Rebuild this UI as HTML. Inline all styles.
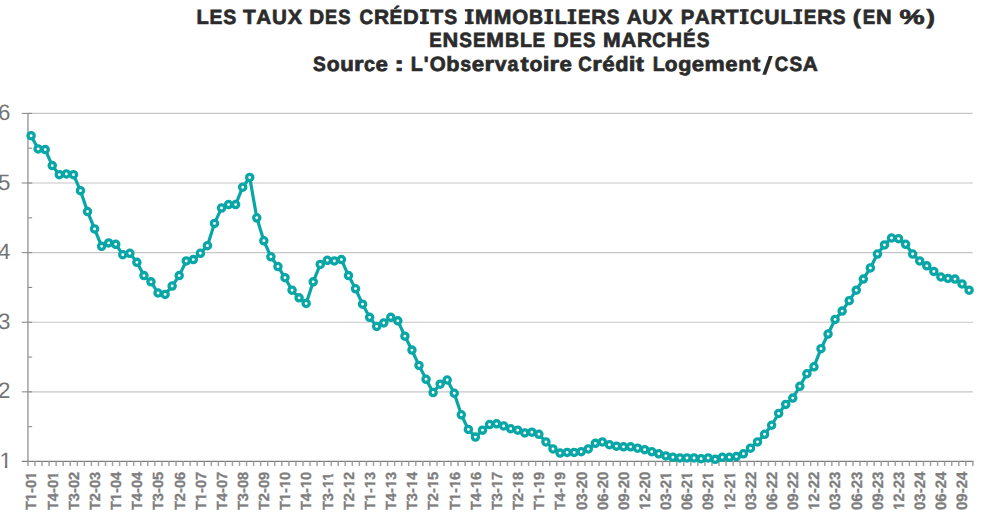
<!DOCTYPE html>
<html><head><meta charset="utf-8"><title>Taux</title>
<style>html,body{margin:0;padding:0;background:#fff;}svg{display:block;}text{font-family:"Liberation Sans",sans-serif;text-rendering:geometricPrecision;}</style></head>
<body>
<svg width="981" height="515" viewBox="0 0 981 515">
<rect width="981" height="515" fill="#ffffff"/>
<g font-weight="bold" font-size="20.5" fill="#2b2b2b" stroke="#2b2b2b" stroke-width="0.7">
<text transform="translate(196.60 23.65) scale(0.9827 1)">L</text>
<text transform="translate(209.44 23.65) scale(0.9383 1)">E</text>
<text transform="translate(223.32 23.65) scale(0.9514 1)">S</text>
<text transform="translate(243.12 23.65) scale(1.0164 1)">T</text>
<text transform="translate(256.31 23.65) scale(1.0121 1)">A</text>
<text transform="translate(271.92 23.65) scale(1.0059 1)">U</text>
<text transform="translate(287.69 23.65) scale(1.0411 1)">X</text>
<text transform="translate(309.27 23.65) scale(1.0070 1)">D</text>
<text transform="translate(325.09 23.65) scale(0.8832 1)">E</text>
<text transform="translate(338.16 23.65) scale(0.8956 1)">S</text>
<text transform="translate(359.45 23.65) scale(0.9223 1)">C</text>
<text transform="translate(373.91 23.65) scale(1.0211 1)">R</text>
<text transform="translate(389.56 23.65) scale(0.9291 1)">É</text>
<text transform="translate(403.01 23.65) scale(1.0595 1)">D</text>
<path stroke="none" d="M420.04 9.20H428.91V11.60H420.04ZM420.04 21.60H428.91V24.00H420.04Z"/><text transform="translate(421.36 23.65) scale(1.0950 1)">I</text>
<text transform="translate(430.23 23.65) scale(1.0309 1)">T</text>
<text transform="translate(444.24 23.65) scale(0.9422 1)">S</text>
<path stroke="none" d="M464.90 9.20H473.65V11.60H464.90ZM464.90 21.60H473.65V24.00H464.90Z"/><text transform="translate(466.15 23.65) scale(1.0950 1)">I</text>
<text transform="translate(475.10 23.65) scale(1.0331 1)">M</text>
<text transform="translate(493.69 23.65) scale(1.0331 1)">M</text>
<text transform="translate(512.20 23.65) scale(0.9973 1)">O</text>
<text transform="translate(529.04 23.65) scale(0.9492 1)">B</text>
<path stroke="none" d="M544.40 9.20H553.15V11.60H544.40ZM544.40 21.60H553.15V24.00H544.40Z"/><text transform="translate(545.66 23.65) scale(1.0950 1)">I</text>
<text transform="translate(554.68 23.65) scale(0.9595 1)">L</text>
<path stroke="none" d="M567.60 9.20H576.35V11.60H567.60ZM567.60 21.60H576.35V24.00H567.60Z"/><text transform="translate(568.86 23.65) scale(1.0950 1)">I</text>
<text transform="translate(577.92 23.65) scale(0.9162 1)">E</text>
<text transform="translate(591.22 23.65) scale(1.0068 1)">R</text>
<text transform="translate(606.82 23.65) scale(0.9290 1)">S</text>
<text transform="translate(626.64 23.65) scale(1.0159 1)">A</text>
<text transform="translate(642.31 23.65) scale(1.0096 1)">U</text>
<text transform="translate(658.13 23.65) scale(1.0450 1)">X</text>
<text transform="translate(680.79 23.65) scale(0.9934 1)">P</text>
<text transform="translate(694.84 23.65) scale(1.0173 1)">A</text>
<text transform="translate(710.51 23.65) scale(1.0119 1)">R</text>
<text transform="translate(725.74 23.65) scale(1.0217 1)">T</text>
<path stroke="none" d="M739.85 9.20H748.64V11.60H739.85ZM739.85 21.60H748.64V24.00H739.85Z"/><text transform="translate(741.12 23.65) scale(1.0950 1)">I</text>
<text transform="translate(750.06 23.65) scale(0.9140 1)">C</text>
<text transform="translate(764.42 23.65) scale(1.0111 1)">U</text>
<text transform="translate(780.45 23.65) scale(0.9644 1)">L</text>
<path stroke="none" d="M793.44 9.20H802.23V11.60H793.44ZM793.44 21.60H802.23V24.00H793.44Z"/><text transform="translate(794.72 23.65) scale(1.0950 1)">I</text>
<text transform="translate(803.81 23.65) scale(0.9208 1)">E</text>
<text transform="translate(817.18 23.65) scale(1.0119 1)">R</text>
<text transform="translate(832.85 23.65) scale(0.9338 1)">S</text>
<text transform="translate(852.71 23.65) scale(1.1802 1)">(</text>
<text transform="translate(862.84 23.65) scale(0.9122 1)">E</text>
<text transform="translate(876.03 23.65) scale(1.0581 1)">N</text>
<text transform="translate(899.48 23.65) scale(1.3771 1)">%</text>
<text transform="translate(926.52 23.65) scale(1.2317 1)">)</text>
<text transform="translate(429.17 47.40) scale(0.9151 1)">E</text>
<text transform="translate(442.40 47.40) scale(1.0615 1)">N</text>
<text transform="translate(459.30 47.40) scale(0.9280 1)">S</text>
<text transform="translate(473.04 47.40) scale(0.9151 1)">E</text>
<text transform="translate(486.30 47.40) scale(1.0320 1)">M</text>
<text transform="translate(504.96 47.40) scale(0.9481 1)">B</text>
<text transform="translate(519.88 47.40) scale(0.9585 1)">L</text>
<text transform="translate(532.40 47.40) scale(0.9151 1)">E</text>
<text transform="translate(553.56 47.40) scale(1.0223 1)">D</text>
<text transform="translate(569.61 47.40) scale(0.8965 1)">E</text>
<text transform="translate(582.88 47.40) scale(0.9091 1)">S</text>
<text transform="translate(603.04 47.40) scale(1.0355 1)">M</text>
<text transform="translate(621.33 47.40) scale(1.0145 1)">A</text>
<text transform="translate(636.96 47.40) scale(1.0091 1)">R</text>
<text transform="translate(652.26 47.40) scale(0.9115 1)">C</text>
<text transform="translate(666.51 47.40) scale(1.0497 1)">H</text>
<text transform="translate(683.10 47.40) scale(0.9182 1)">É</text>
<text transform="translate(696.69 47.40) scale(0.9311 1)">S</text>
<text transform="translate(313.08 71.15) scale(0.9341 1)">S</text>
<text transform="translate(326.64 71.15) scale(1.0300 1)">o</text>
<text transform="translate(340.15 71.15) scale(1.0827 1)">u</text>
<text transform="translate(353.98 71.15) scale(1.2001 1)">r</text>
<text transform="translate(364.06 71.15) scale(0.9638 1)">c</text>
<text transform="translate(375.59 71.15) scale(1.0864 1)">e</text>
<text transform="translate(394.35 71.15) scale(1.4500 1)">:</text>
<text transform="translate(410.82 71.15) scale(0.9620 1)">L</text>
<text transform="translate(423.63 71.15) scale(0.9880 1)">&#39;</text>
<text transform="translate(429.71 71.15) scale(0.9998 1)">O</text>
<text transform="translate(446.25 71.15) scale(1.0587 1)">b</text>
<text transform="translate(460.20 71.15) scale(0.9569 1)">s</text>
<text transform="translate(471.73 71.15) scale(1.0832 1)">e</text>
<text transform="translate(484.56 71.15) scale(1.1965 1)">r</text>
<text transform="translate(494.73 71.15) scale(1.0381 1)">v</text>
<text transform="translate(507.58 71.15) scale(0.9601 1)">a</text>
<text transform="translate(520.48 71.15) scale(1.1920 1)">t</text>
<text transform="translate(529.45 71.15) scale(1.0269 1)">o</text>
<text transform="translate(542.63 71.15) scale(1.1865 1)">i</text>
<text transform="translate(549.44 71.15) scale(1.1965 1)">r</text>
<text transform="translate(559.43 71.15) scale(1.0832 1)">e</text>
<text transform="translate(578.25 71.15) scale(0.9129 1)">C</text>
<text transform="translate(592.15 71.15) scale(1.1981 1)">r</text>
<text transform="translate(602.15 71.15) scale(1.0846 1)">é</text>
<text transform="translate(615.19 71.15) scale(1.0602 1)">d</text>
<text transform="translate(628.68 71.15) scale(1.1881 1)">i</text>
<text transform="translate(635.73 71.15) scale(1.1936 1)">t</text>
<text transform="translate(652.63 71.15) scale(0.9538 1)">L</text>
<text transform="translate(664.82 71.15) scale(1.0182 1)">o</text>
<text transform="translate(678.15 71.15) scale(1.0516 1)">g</text>
<text transform="translate(691.81 71.15) scale(1.0740 1)">e</text>
<text transform="translate(704.61 71.15) scale(1.1094 1)">m</text>
<text transform="translate(725.37 71.15) scale(1.0740 1)">e</text>
<text transform="translate(738.22 71.15) scale(1.0703 1)">n</text>
<text transform="translate(752.21 71.15) scale(1.1818 1)">t</text>
<text transform="translate(774.85 71.15) scale(0.9124 1)">C</text>
<text transform="translate(789.42 71.15) scale(0.9320 1)">S</text>
<text transform="translate(802.76 71.15) scale(1.0155 1)">A</text>
<polygon points="768.9,56.1 772.7,56.1 766.1,74.7 762.3,74.7" stroke="none"/>
</g>
<g stroke="#c6c6c6" stroke-width="1.1">
<line x1="27.95" y1="113.40" x2="972.86" y2="113.40"/>
<line x1="27.95" y1="183.01" x2="972.86" y2="183.01"/>
<line x1="27.95" y1="252.62" x2="972.86" y2="252.62"/>
<line x1="27.95" y1="322.24" x2="972.86" y2="322.24"/>
<line x1="27.95" y1="391.85" x2="972.86" y2="391.85"/>
</g>
<line x1="27.95" y1="112.90" x2="27.95" y2="461.46" stroke="#a6a6a6" stroke-width="1.6"/>
<g stroke="#8c8c8c" stroke-width="1.1">
<line x1="21.7" y1="113.40" x2="32.2" y2="113.40"/>
<line x1="21.7" y1="183.01" x2="32.2" y2="183.01"/>
<line x1="21.7" y1="252.62" x2="32.2" y2="252.62"/>
<line x1="21.7" y1="322.24" x2="32.2" y2="322.24"/>
<line x1="21.7" y1="391.85" x2="32.2" y2="391.85"/>
<line x1="27.95" y1="148.21" x2="32.2" y2="148.21"/>
<line x1="27.95" y1="217.82" x2="32.2" y2="217.82"/>
<line x1="27.95" y1="287.43" x2="32.2" y2="287.43"/>
<line x1="27.95" y1="357.04" x2="32.2" y2="357.04"/>
<line x1="27.95" y1="426.65" x2="32.2" y2="426.65"/>
</g>
<line x1="21.7" y1="461.46" x2="973.46" y2="461.46" stroke="#7f7f7f" stroke-width="1.2"/>
<path d="M27.95 461.46V466.06M35.00 461.46V466.06M42.05 461.46V466.06M49.10 461.46V466.06M56.16 461.46V466.06M63.21 461.46V466.06M70.26 461.46V466.06M77.31 461.46V466.06M84.36 461.46V466.06M91.41 461.46V466.06M98.47 461.46V466.06M105.52 461.46V466.06M112.57 461.46V466.06M119.62 461.46V466.06M126.67 461.46V466.06M133.72 461.46V466.06M140.78 461.46V466.06M147.83 461.46V466.06M154.88 461.46V466.06M161.93 461.46V466.06M168.98 461.46V466.06M176.03 461.46V466.06M183.08 461.46V466.06M190.14 461.46V466.06M197.19 461.46V466.06M204.24 461.46V466.06M211.29 461.46V466.06M218.34 461.46V466.06M225.39 461.46V466.06M232.45 461.46V466.06M239.50 461.46V466.06M246.55 461.46V466.06M253.60 461.46V466.06M260.65 461.46V466.06M267.70 461.46V466.06M274.75 461.46V466.06M281.81 461.46V466.06M288.86 461.46V466.06M295.91 461.46V466.06M302.96 461.46V466.06M310.01 461.46V466.06M317.06 461.46V466.06M324.12 461.46V466.06M331.17 461.46V466.06M338.22 461.46V466.06M345.27 461.46V466.06M352.32 461.46V466.06M359.37 461.46V466.06M366.43 461.46V466.06M373.48 461.46V466.06M380.53 461.46V466.06M387.58 461.46V466.06M394.63 461.46V466.06M401.68 461.46V466.06M408.73 461.46V466.06M415.79 461.46V466.06M422.84 461.46V466.06M429.89 461.46V466.06M436.94 461.46V466.06M443.99 461.46V466.06M451.04 461.46V466.06M458.10 461.46V466.06M465.15 461.46V466.06M472.20 461.46V466.06M479.25 461.46V466.06M486.30 461.46V466.06M493.35 461.46V466.06M500.40 461.46V466.06M507.46 461.46V466.06M514.51 461.46V466.06M521.56 461.46V466.06M528.61 461.46V466.06M535.66 461.46V466.06M542.71 461.46V466.06M549.77 461.46V466.06M556.82 461.46V466.06M563.87 461.46V466.06M570.92 461.46V466.06M577.97 461.46V466.06M585.02 461.46V466.06M592.08 461.46V466.06M599.13 461.46V466.06M606.18 461.46V466.06M613.23 461.46V466.06M620.28 461.46V466.06M627.33 461.46V466.06M634.38 461.46V466.06M641.44 461.46V466.06M648.49 461.46V466.06M655.54 461.46V466.06M662.59 461.46V466.06M669.64 461.46V466.06M676.69 461.46V466.06M683.75 461.46V466.06M690.80 461.46V466.06M697.85 461.46V466.06M704.90 461.46V466.06M711.95 461.46V466.06M719.00 461.46V466.06M726.06 461.46V466.06M733.11 461.46V466.06M740.16 461.46V466.06M747.21 461.46V466.06M754.26 461.46V466.06M761.31 461.46V466.06M768.36 461.46V466.06M775.42 461.46V466.06M782.47 461.46V466.06M789.52 461.46V466.06M796.57 461.46V466.06M803.62 461.46V466.06M810.67 461.46V466.06M817.73 461.46V466.06M824.78 461.46V466.06M831.83 461.46V466.06M838.88 461.46V466.06M845.93 461.46V466.06M852.98 461.46V466.06M860.03 461.46V466.06M867.09 461.46V466.06M874.14 461.46V466.06M881.19 461.46V466.06M888.24 461.46V466.06M895.29 461.46V466.06M902.34 461.46V466.06M909.40 461.46V466.06M916.45 461.46V466.06M923.50 461.46V466.06M930.55 461.46V466.06M937.60 461.46V466.06M944.65 461.46V466.06M951.71 461.46V466.06M958.76 461.46V466.06M965.81 461.46V466.06M972.86 461.46V466.06" stroke="#a3a3a3" stroke-width="1.5" fill="none"/>
<g font-size="22.3" fill="#747474" text-anchor="end">
<text x="10.3" y="119.90">6</text>
<text x="10.3" y="189.51">5</text>
<text x="10.3" y="259.12">4</text>
<text x="10.3" y="328.74">3</text>
<text x="10.3" y="398.35">2</text>
<text x="11.9" y="467.96">1</text>
<rect x="0.40" y="465.79" width="4.46" height="2.87" fill="#fff"/>
<rect x="7.33" y="465.79" width="4.53" height="2.87" fill="#fff"/>
</g>
<g font-size="14.7" font-weight="bold" fill="#7e7e7e" stroke="#7e7e7e" stroke-width="0.3">
<g transform="translate(36.40 510.1) rotate(-90)"><text font-size="14.7">T1-01</text><rect x="9.01" y="-2.40" width="3.16" height="3.40" fill="#fff" stroke="none"/><rect x="14.68" y="-2.40" width="3.02" height="3.40" fill="#fff" stroke="none"/><rect x="30.25" y="-2.40" width="3.16" height="3.40" fill="#fff" stroke="none"/><rect x="35.92" y="-2.40" width="3.02" height="3.40" fill="#fff" stroke="none"/></g>
<g transform="translate(57.56 510.1) rotate(-90)"><text font-size="14.7">T4-01</text><rect x="30.25" y="-2.40" width="3.16" height="3.40" fill="#fff" stroke="none"/><rect x="35.92" y="-2.40" width="3.02" height="3.40" fill="#fff" stroke="none"/></g>
<g transform="translate(78.72 510.1) rotate(-90)"><text font-size="14.7">T3-02</text></g>
<g transform="translate(99.87 510.1) rotate(-90)"><text font-size="14.7">T2-03</text></g>
<g transform="translate(121.03 510.1) rotate(-90)"><text font-size="14.7">T1-04</text><rect x="9.01" y="-2.40" width="3.16" height="3.40" fill="#fff" stroke="none"/><rect x="14.68" y="-2.40" width="3.02" height="3.40" fill="#fff" stroke="none"/></g>
<g transform="translate(142.19 510.1) rotate(-90)"><text font-size="14.7">T4-04</text></g>
<g transform="translate(163.35 510.1) rotate(-90)"><text font-size="14.7">T3-05</text></g>
<g transform="translate(184.51 510.1) rotate(-90)"><text font-size="14.7">T2-06</text></g>
<g transform="translate(205.66 510.1) rotate(-90)"><text font-size="14.7">T1-07</text><rect x="9.01" y="-2.40" width="3.16" height="3.40" fill="#fff" stroke="none"/><rect x="14.68" y="-2.40" width="3.02" height="3.40" fill="#fff" stroke="none"/></g>
<g transform="translate(226.82 510.1) rotate(-90)"><text font-size="14.7">T4-07</text></g>
<g transform="translate(247.98 510.1) rotate(-90)"><text font-size="14.7">T3-08</text></g>
<g transform="translate(269.14 510.1) rotate(-90)"><text font-size="14.7">T2-09</text></g>
<g transform="translate(290.29 510.1) rotate(-90)"><text font-size="14.7">T1-10</text><rect x="9.01" y="-2.40" width="3.16" height="3.40" fill="#fff" stroke="none"/><rect x="14.68" y="-2.40" width="3.02" height="3.40" fill="#fff" stroke="none"/><rect x="22.08" y="-2.40" width="3.16" height="3.40" fill="#fff" stroke="none"/><rect x="27.75" y="-2.40" width="3.02" height="3.40" fill="#fff" stroke="none"/></g>
<g transform="translate(311.45 510.1) rotate(-90)"><text font-size="14.7">T4-10</text><rect x="22.08" y="-2.40" width="3.16" height="3.40" fill="#fff" stroke="none"/><rect x="27.75" y="-2.40" width="3.02" height="3.40" fill="#fff" stroke="none"/></g>
<g transform="translate(332.61 510.1) rotate(-90)"><text font-size="14.7">T3-11</text><rect x="22.08" y="-2.40" width="3.16" height="3.40" fill="#fff" stroke="none"/><rect x="27.75" y="-2.40" width="3.02" height="3.40" fill="#fff" stroke="none"/><rect x="30.25" y="-2.40" width="3.16" height="3.40" fill="#fff" stroke="none"/><rect x="35.92" y="-2.40" width="3.02" height="3.40" fill="#fff" stroke="none"/></g>
<g transform="translate(353.77 510.1) rotate(-90)"><text font-size="14.7">T2-12</text><rect x="22.08" y="-2.40" width="3.16" height="3.40" fill="#fff" stroke="none"/><rect x="27.75" y="-2.40" width="3.02" height="3.40" fill="#fff" stroke="none"/></g>
<g transform="translate(374.93 510.1) rotate(-90)"><text font-size="14.7">T1-13</text><rect x="9.01" y="-2.40" width="3.16" height="3.40" fill="#fff" stroke="none"/><rect x="14.68" y="-2.40" width="3.02" height="3.40" fill="#fff" stroke="none"/><rect x="22.08" y="-2.40" width="3.16" height="3.40" fill="#fff" stroke="none"/><rect x="27.75" y="-2.40" width="3.02" height="3.40" fill="#fff" stroke="none"/></g>
<g transform="translate(396.08 510.1) rotate(-90)"><text font-size="14.7">T4-13</text><rect x="22.08" y="-2.40" width="3.16" height="3.40" fill="#fff" stroke="none"/><rect x="27.75" y="-2.40" width="3.02" height="3.40" fill="#fff" stroke="none"/></g>
<g transform="translate(417.24 510.1) rotate(-90)"><text font-size="14.7">T3-14</text><rect x="22.08" y="-2.40" width="3.16" height="3.40" fill="#fff" stroke="none"/><rect x="27.75" y="-2.40" width="3.02" height="3.40" fill="#fff" stroke="none"/></g>
<g transform="translate(438.40 510.1) rotate(-90)"><text font-size="14.7">T2-15</text><rect x="22.08" y="-2.40" width="3.16" height="3.40" fill="#fff" stroke="none"/><rect x="27.75" y="-2.40" width="3.02" height="3.40" fill="#fff" stroke="none"/></g>
<g transform="translate(459.56 510.1) rotate(-90)"><text font-size="14.7">T1-16</text><rect x="9.01" y="-2.40" width="3.16" height="3.40" fill="#fff" stroke="none"/><rect x="14.68" y="-2.40" width="3.02" height="3.40" fill="#fff" stroke="none"/><rect x="22.08" y="-2.40" width="3.16" height="3.40" fill="#fff" stroke="none"/><rect x="27.75" y="-2.40" width="3.02" height="3.40" fill="#fff" stroke="none"/></g>
<g transform="translate(480.72 510.1) rotate(-90)"><text font-size="14.7">T4-16</text><rect x="22.08" y="-2.40" width="3.16" height="3.40" fill="#fff" stroke="none"/><rect x="27.75" y="-2.40" width="3.02" height="3.40" fill="#fff" stroke="none"/></g>
<g transform="translate(501.87 510.1) rotate(-90)"><text font-size="14.7">T3-17</text><rect x="22.08" y="-2.40" width="3.16" height="3.40" fill="#fff" stroke="none"/><rect x="27.75" y="-2.40" width="3.02" height="3.40" fill="#fff" stroke="none"/></g>
<g transform="translate(523.03 510.1) rotate(-90)"><text font-size="14.7">T2-18</text><rect x="22.08" y="-2.40" width="3.16" height="3.40" fill="#fff" stroke="none"/><rect x="27.75" y="-2.40" width="3.02" height="3.40" fill="#fff" stroke="none"/></g>
<g transform="translate(544.19 510.1) rotate(-90)"><text font-size="14.7">T1-19</text><rect x="9.01" y="-2.40" width="3.16" height="3.40" fill="#fff" stroke="none"/><rect x="14.68" y="-2.40" width="3.02" height="3.40" fill="#fff" stroke="none"/><rect x="22.08" y="-2.40" width="3.16" height="3.40" fill="#fff" stroke="none"/><rect x="27.75" y="-2.40" width="3.02" height="3.40" fill="#fff" stroke="none"/></g>
<g transform="translate(565.35 510.1) rotate(-90)"><text font-size="14.7">T4-19</text><rect x="22.08" y="-2.40" width="3.16" height="3.40" fill="#fff" stroke="none"/><rect x="27.75" y="-2.40" width="3.02" height="3.40" fill="#fff" stroke="none"/></g>
<g transform="translate(586.51 510.1) rotate(-90)"><text font-size="15.1">03-20</text></g>
<g transform="translate(607.66 510.1) rotate(-90)"><text font-size="15.1">06-20</text></g>
<g transform="translate(628.82 510.1) rotate(-90)"><text font-size="15.1">09-20</text></g>
<g transform="translate(649.98 510.1) rotate(-90)"><text font-size="15.1">12-20</text><rect x="0.05" y="-2.44" width="3.22" height="3.44" fill="#fff" stroke="none"/><rect x="5.85" y="-2.44" width="3.08" height="3.44" fill="#fff" stroke="none"/></g>
<g transform="translate(671.14 510.1) rotate(-90)"><text font-size="15.1">03-21</text><rect x="30.27" y="-2.44" width="3.22" height="3.44" fill="#fff" stroke="none"/><rect x="36.07" y="-2.44" width="3.08" height="3.44" fill="#fff" stroke="none"/></g>
<g transform="translate(692.29 510.1) rotate(-90)"><text font-size="15.1">06-21</text><rect x="30.27" y="-2.44" width="3.22" height="3.44" fill="#fff" stroke="none"/><rect x="36.07" y="-2.44" width="3.08" height="3.44" fill="#fff" stroke="none"/></g>
<g transform="translate(713.45 510.1) rotate(-90)"><text font-size="15.1">09-21</text><rect x="30.27" y="-2.44" width="3.22" height="3.44" fill="#fff" stroke="none"/><rect x="36.07" y="-2.44" width="3.08" height="3.44" fill="#fff" stroke="none"/></g>
<g transform="translate(734.61 510.1) rotate(-90)"><text font-size="15.1">12-21</text><rect x="0.05" y="-2.44" width="3.22" height="3.44" fill="#fff" stroke="none"/><rect x="5.85" y="-2.44" width="3.08" height="3.44" fill="#fff" stroke="none"/><rect x="30.27" y="-2.44" width="3.22" height="3.44" fill="#fff" stroke="none"/><rect x="36.07" y="-2.44" width="3.08" height="3.44" fill="#fff" stroke="none"/></g>
<g transform="translate(755.77 510.1) rotate(-90)"><text font-size="15.1">03-22</text></g>
<g transform="translate(776.93 510.1) rotate(-90)"><text font-size="15.1">06-22</text></g>
<g transform="translate(798.08 510.1) rotate(-90)"><text font-size="15.1">09-22</text></g>
<g transform="translate(819.24 510.1) rotate(-90)"><text font-size="15.1">12-22</text><rect x="0.05" y="-2.44" width="3.22" height="3.44" fill="#fff" stroke="none"/><rect x="5.85" y="-2.44" width="3.08" height="3.44" fill="#fff" stroke="none"/></g>
<g transform="translate(840.40 510.1) rotate(-90)"><text font-size="15.1">03-23</text></g>
<g transform="translate(861.56 510.1) rotate(-90)"><text font-size="15.1">06-23</text></g>
<g transform="translate(882.72 510.1) rotate(-90)"><text font-size="15.1">09-23</text></g>
<g transform="translate(903.87 510.1) rotate(-90)"><text font-size="15.1">12-23</text><rect x="0.05" y="-2.44" width="3.22" height="3.44" fill="#fff" stroke="none"/><rect x="5.85" y="-2.44" width="3.08" height="3.44" fill="#fff" stroke="none"/></g>
<g transform="translate(925.03 510.1) rotate(-90)"><text font-size="15.1">03-24</text></g>
<g transform="translate(946.19 510.1) rotate(-90)"><text font-size="15.1">06-24</text></g>
<g transform="translate(967.35 510.1) rotate(-90)"><text font-size="15.1">09-24</text></g>
</g>
<polyline fill="none" stroke="#08a6a6" stroke-width="3.2" stroke-linejoin="round" stroke-linecap="round" points="31.10,135.68 38.15,148.90 45.21,149.60 52.26,165.61 59.31,174.66 66.36,173.96 73.42,174.66 80.47,190.67 87.52,211.55 94.57,228.96 101.63,246.36 108.68,242.88 115.73,244.27 122.78,254.71 129.84,253.32 136.89,262.37 143.94,275.60 150.99,281.86 158.05,293.00 165.10,294.39 172.15,286.04 179.21,275.60 186.26,260.98 193.31,259.59 200.36,253.32 207.42,245.66 214.47,223.39 221.52,208.07 228.57,204.59 235.63,204.59 242.68,187.19 249.73,177.44 256.78,217.82 263.84,240.79 270.89,256.80 277.94,266.55 284.99,277.68 292.05,290.21 299.10,297.87 306.15,303.44 313.21,281.86 320.26,264.46 327.31,260.28 334.36,260.98 341.42,259.59 348.47,275.60 355.52,288.82 362.57,304.14 369.63,317.36 376.68,326.41 383.73,322.93 390.78,317.36 397.84,320.84 404.89,336.16 411.94,350.08 418.99,365.40 426.05,379.32 433.10,392.54 440.15,384.19 447.21,380.01 454.26,393.24 461.31,414.82 468.36,429.44 475.42,437.10 482.47,430.13 489.52,424.57 496.57,423.87 503.63,425.96 510.68,428.74 517.73,430.13 524.78,432.92 531.84,432.22 538.89,434.31 545.94,441.97 552.99,448.93 560.05,453.11 567.10,452.41 574.15,452.41 581.21,451.71 588.26,448.93 595.31,443.36 602.36,441.97 609.42,444.75 616.47,446.15 623.52,446.84 630.57,446.84 637.63,448.23 644.68,449.63 651.73,451.71 658.78,453.80 665.84,455.89 672.89,457.28 679.94,457.98 686.99,457.98 694.05,457.98 701.10,458.68 708.15,457.98 715.21,459.37 722.26,457.28 729.31,457.28 736.36,456.59 743.42,453.80 750.47,448.23 757.52,441.97 764.57,434.31 771.63,425.26 778.68,413.43 785.73,404.38 792.78,398.11 799.84,386.28 806.89,373.75 813.94,366.79 820.99,348.69 828.05,334.07 835.10,319.45 842.15,311.10 849.21,300.66 856.26,290.21 863.31,279.08 870.36,267.94 877.42,254.02 884.47,244.97 891.52,238.01 898.57,238.70 905.63,244.27 912.68,254.02 919.73,260.98 926.78,265.85 933.84,271.42 940.89,276.99 947.94,278.38 954.99,279.08 962.05,283.95 969.10,290.21"/>
<g fill="#ffffff" stroke="#08a6a6" stroke-width="3.3">
<circle cx="31.10" cy="135.68" r="3.1"/>
<circle cx="38.15" cy="148.90" r="3.1"/>
<circle cx="45.21" cy="149.60" r="3.1"/>
<circle cx="52.26" cy="165.61" r="3.1"/>
<circle cx="59.31" cy="174.66" r="3.1"/>
<circle cx="66.36" cy="173.96" r="3.1"/>
<circle cx="73.42" cy="174.66" r="3.1"/>
<circle cx="80.47" cy="190.67" r="3.1"/>
<circle cx="87.52" cy="211.55" r="3.1"/>
<circle cx="94.57" cy="228.96" r="3.1"/>
<circle cx="101.63" cy="246.36" r="3.1"/>
<circle cx="108.68" cy="242.88" r="3.1"/>
<circle cx="115.73" cy="244.27" r="3.1"/>
<circle cx="122.78" cy="254.71" r="3.1"/>
<circle cx="129.84" cy="253.32" r="3.1"/>
<circle cx="136.89" cy="262.37" r="3.1"/>
<circle cx="143.94" cy="275.60" r="3.1"/>
<circle cx="150.99" cy="281.86" r="3.1"/>
<circle cx="158.05" cy="293.00" r="3.1"/>
<circle cx="165.10" cy="294.39" r="3.1"/>
<circle cx="172.15" cy="286.04" r="3.1"/>
<circle cx="179.21" cy="275.60" r="3.1"/>
<circle cx="186.26" cy="260.98" r="3.1"/>
<circle cx="193.31" cy="259.59" r="3.1"/>
<circle cx="200.36" cy="253.32" r="3.1"/>
<circle cx="207.42" cy="245.66" r="3.1"/>
<circle cx="214.47" cy="223.39" r="3.1"/>
<circle cx="221.52" cy="208.07" r="3.1"/>
<circle cx="228.57" cy="204.59" r="3.1"/>
<circle cx="235.63" cy="204.59" r="3.1"/>
<circle cx="242.68" cy="187.19" r="3.1"/>
<circle cx="249.73" cy="177.44" r="3.1"/>
<circle cx="256.78" cy="217.82" r="3.1"/>
<circle cx="263.84" cy="240.79" r="3.1"/>
<circle cx="270.89" cy="256.80" r="3.1"/>
<circle cx="277.94" cy="266.55" r="3.1"/>
<circle cx="284.99" cy="277.68" r="3.1"/>
<circle cx="292.05" cy="290.21" r="3.1"/>
<circle cx="299.10" cy="297.87" r="3.1"/>
<circle cx="306.15" cy="303.44" r="3.1"/>
<circle cx="313.21" cy="281.86" r="3.1"/>
<circle cx="320.26" cy="264.46" r="3.1"/>
<circle cx="327.31" cy="260.28" r="3.1"/>
<circle cx="334.36" cy="260.98" r="3.1"/>
<circle cx="341.42" cy="259.59" r="3.1"/>
<circle cx="348.47" cy="275.60" r="3.1"/>
<circle cx="355.52" cy="288.82" r="3.1"/>
<circle cx="362.57" cy="304.14" r="3.1"/>
<circle cx="369.63" cy="317.36" r="3.1"/>
<circle cx="376.68" cy="326.41" r="3.1"/>
<circle cx="383.73" cy="322.93" r="3.1"/>
<circle cx="390.78" cy="317.36" r="3.1"/>
<circle cx="397.84" cy="320.84" r="3.1"/>
<circle cx="404.89" cy="336.16" r="3.1"/>
<circle cx="411.94" cy="350.08" r="3.1"/>
<circle cx="418.99" cy="365.40" r="3.1"/>
<circle cx="426.05" cy="379.32" r="3.1"/>
<circle cx="433.10" cy="392.54" r="3.1"/>
<circle cx="440.15" cy="384.19" r="3.1"/>
<circle cx="447.21" cy="380.01" r="3.1"/>
<circle cx="454.26" cy="393.24" r="3.1"/>
<circle cx="461.31" cy="414.82" r="3.1"/>
<circle cx="468.36" cy="429.44" r="3.1"/>
<circle cx="475.42" cy="437.10" r="3.1"/>
<circle cx="482.47" cy="430.13" r="3.1"/>
<circle cx="489.52" cy="424.57" r="3.1"/>
<circle cx="496.57" cy="423.87" r="3.1"/>
<circle cx="503.63" cy="425.96" r="3.1"/>
<circle cx="510.68" cy="428.74" r="3.1"/>
<circle cx="517.73" cy="430.13" r="3.1"/>
<circle cx="524.78" cy="432.92" r="3.1"/>
<circle cx="531.84" cy="432.22" r="3.1"/>
<circle cx="538.89" cy="434.31" r="3.1"/>
<circle cx="545.94" cy="441.97" r="3.1"/>
<circle cx="552.99" cy="448.93" r="3.1"/>
<circle cx="560.05" cy="453.11" r="3.1"/>
<circle cx="567.10" cy="452.41" r="3.1"/>
<circle cx="574.15" cy="452.41" r="3.1"/>
<circle cx="581.21" cy="451.71" r="3.1"/>
<circle cx="588.26" cy="448.93" r="3.1"/>
<circle cx="595.31" cy="443.36" r="3.1"/>
<circle cx="602.36" cy="441.97" r="3.1"/>
<circle cx="609.42" cy="444.75" r="3.1"/>
<circle cx="616.47" cy="446.15" r="3.1"/>
<circle cx="623.52" cy="446.84" r="3.1"/>
<circle cx="630.57" cy="446.84" r="3.1"/>
<circle cx="637.63" cy="448.23" r="3.1"/>
<circle cx="644.68" cy="449.63" r="3.1"/>
<circle cx="651.73" cy="451.71" r="3.1"/>
<circle cx="658.78" cy="453.80" r="3.1"/>
<circle cx="665.84" cy="455.89" r="3.1"/>
<circle cx="672.89" cy="457.28" r="3.1"/>
<circle cx="679.94" cy="457.98" r="3.1"/>
<circle cx="686.99" cy="457.98" r="3.1"/>
<circle cx="694.05" cy="457.98" r="3.1"/>
<circle cx="701.10" cy="458.68" r="3.1"/>
<circle cx="708.15" cy="457.98" r="3.1"/>
<circle cx="715.21" cy="459.37" r="3.1"/>
<circle cx="722.26" cy="457.28" r="3.1"/>
<circle cx="729.31" cy="457.28" r="3.1"/>
<circle cx="736.36" cy="456.59" r="3.1"/>
<circle cx="743.42" cy="453.80" r="3.1"/>
<circle cx="750.47" cy="448.23" r="3.1"/>
<circle cx="757.52" cy="441.97" r="3.1"/>
<circle cx="764.57" cy="434.31" r="3.1"/>
<circle cx="771.63" cy="425.26" r="3.1"/>
<circle cx="778.68" cy="413.43" r="3.1"/>
<circle cx="785.73" cy="404.38" r="3.1"/>
<circle cx="792.78" cy="398.11" r="3.1"/>
<circle cx="799.84" cy="386.28" r="3.1"/>
<circle cx="806.89" cy="373.75" r="3.1"/>
<circle cx="813.94" cy="366.79" r="3.1"/>
<circle cx="820.99" cy="348.69" r="3.1"/>
<circle cx="828.05" cy="334.07" r="3.1"/>
<circle cx="835.10" cy="319.45" r="3.1"/>
<circle cx="842.15" cy="311.10" r="3.1"/>
<circle cx="849.21" cy="300.66" r="3.1"/>
<circle cx="856.26" cy="290.21" r="3.1"/>
<circle cx="863.31" cy="279.08" r="3.1"/>
<circle cx="870.36" cy="267.94" r="3.1"/>
<circle cx="877.42" cy="254.02" r="3.1"/>
<circle cx="884.47" cy="244.97" r="3.1"/>
<circle cx="891.52" cy="238.01" r="3.1"/>
<circle cx="898.57" cy="238.70" r="3.1"/>
<circle cx="905.63" cy="244.27" r="3.1"/>
<circle cx="912.68" cy="254.02" r="3.1"/>
<circle cx="919.73" cy="260.98" r="3.1"/>
<circle cx="926.78" cy="265.85" r="3.1"/>
<circle cx="933.84" cy="271.42" r="3.1"/>
<circle cx="940.89" cy="276.99" r="3.1"/>
<circle cx="947.94" cy="278.38" r="3.1"/>
<circle cx="954.99" cy="279.08" r="3.1"/>
<circle cx="962.05" cy="283.95" r="3.1"/>
<circle cx="969.10" cy="290.21" r="3.1"/>
</g>
</svg>
</body></html>
